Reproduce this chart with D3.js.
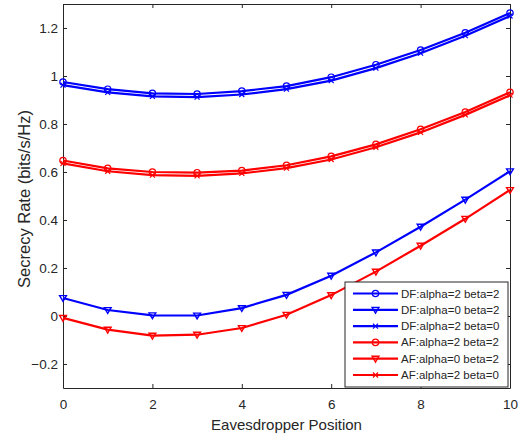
<!DOCTYPE html>
<html>
<head>
<meta charset="utf-8">
<script src="https://cdn.jsdelivr.net/npm/d3@7"></script>
<style>
  body { margin: 0; background: #fff; }
  svg { font-family: "Liberation Sans", Arial, sans-serif; }
</style>
</head>
<body>
<div id="chart"></div>
<script>
// Data
const positions = [0, 1, 2, 3, 4, 5, 6, 7, 8, 9, 10];
const df22 = [0.975, 0.945, 0.928, 0.925, 0.937, 0.958, 0.995, 1.047, 1.108, 1.180, 1.262];
const df02 = [0.075, 0.025, 0.003, 0.002, 0.033, 0.088, 0.168, 0.265, 0.372, 0.485, 0.603];
const df20 = [0.962, 0.932, 0.915, 0.912, 0.923, 0.945, 0.981, 1.033, 1.095, 1.168, 1.250];
const af22 = [0.648, 0.615, 0.600, 0.597, 0.606, 0.628, 0.665, 0.715, 0.778, 0.850, 0.932];
const af02 = [-0.008, -0.057, -0.082, -0.078, -0.050, 0.005, 0.087, 0.185, 0.293, 0.405, 0.525];
const af20 = [0.636, 0.603, 0.587, 0.584, 0.594, 0.616, 0.652, 0.703, 0.765, 0.838, 0.920];
const seriesNames = ['DF:alpha=2 beta=2', 'DF:alpha=0 beta=2', 'DF:alpha=2 beta=0',
                     'AF:alpha=2 beta=2', 'AF:alpha=0 beta=2', 'AF:alpha=2 beta=0'];
const xTicks = [0, 2, 4, 6, 8, 10];
const yTicks = [-0.2, 0, 0.2, 0.4, 0.6, 0.8, 1, 1.2];

const series = [
    { name: seriesNames[0], values: df22, color: '#0000ff', marker: 'circle' },
    { name: seriesNames[1], values: df02, color: '#0000ff', marker: 'tri' },
    { name: seriesNames[2], values: df20, color: '#0000ff', marker: 'cross' },
    { name: seriesNames[3], values: af22, color: '#ff0000', marker: 'circle' },
    { name: seriesNames[4], values: af02, color: '#ff0000', marker: 'tri' },
    { name: seriesNames[5], values: af20, color: '#ff0000', marker: 'cross' }
];

// Layout
const WIDTH = 526, HEIGHT = 436;
const LEFT = 63, RIGHT = 510, TOP = 4, BOTTOM = 388;
const AXIS_COLOR = '#262626';

const svg = d3.select('#chart').append('svg')
    .attr('width', WIDTH).attr('height', HEIGHT);

const x = d3.scaleLinear().domain([0, 10]).range([LEFT, RIGHT]);
const y = d3.scaleLinear().domain([-0.3, 1.3]).range([BOTTOM, TOP]);

// plot background
svg.append('rect')
    .attr('x', LEFT).attr('y', TOP)
    .attr('width', RIGHT - LEFT).attr('height', BOTTOM - TOP)
    .attr('fill', '#fff');

// Axes (MATLAB style: ticks inward, on all four sides)
function styleAxis(g) {
    g.selectAll('path').attr('stroke', AXIS_COLOR);
    g.selectAll('line').attr('stroke', AXIS_COLOR);
    g.selectAll('text').attr('fill', AXIS_COLOR).attr('font-size', 13.5);
}
const fmt = d => (d === 0 ? '0' : d3.format('')(+d.toFixed(1)));

svg.append('g')
    .attr('transform', `translate(0,${BOTTOM})`)
    .call(d3.axisBottom(x).tickValues(xTicks).tickSizeInner(-4).tickSizeOuter(0).tickPadding(11))
    .call(styleAxis);
svg.append('g')
    .attr('transform', `translate(0,${TOP})`)
    .call(d3.axisTop(x).tickValues(xTicks).tickSizeInner(-4).tickSizeOuter(0).tickFormat(''))
    .call(styleAxis);
svg.append('g')
    .attr('transform', `translate(${LEFT},0)`)
    .call(d3.axisLeft(y).tickValues(yTicks).tickSizeInner(-4).tickSizeOuter(0).tickPadding(5).tickFormat(fmt))
    .call(styleAxis);
svg.append('g')
    .attr('transform', `translate(${RIGHT},0)`)
    .call(d3.axisRight(y).tickValues(yTicks).tickSizeInner(-4).tickSizeOuter(0).tickFormat(''))
    .call(styleAxis);

// Axis labels
svg.append('text')
    .attr('x', (LEFT + RIGHT) / 2).attr('y', 430)
    .attr('text-anchor', 'middle')
    .attr('font-size', 15).attr('fill', AXIS_COLOR)
    .text('Eavesdropper Position');
svg.append('text')
    .attr('transform', 'translate(29.5,199) rotate(-90)')
    .attr('text-anchor', 'middle')
    .attr('font-size', 16.5).attr('fill', AXIS_COLOR)
    .text('Secrecy Rate (bits/s/Hz)');

// Markers
function drawMarker(g, type, color) {
    if (type === 'circle') {
        g.append('circle').attr('r', 3.2)
            .attr('fill', 'none').attr('stroke', color).attr('stroke-width', 1.2);
    } else if (type === 'tri') {
        g.append('path').attr('d', 'M-3.4,-2.4 L3.4,-2.4 L0,3.4 Z')
            .attr('fill', 'none').attr('stroke', color).attr('stroke-width', 1.4);
    } else {
        g.append('path').attr('d', 'M-2.5,-2.5 L2.5,2.5 M-2.5,2.5 L2.5,-2.5')
            .attr('stroke', color).attr('stroke-width', 1.2);
    }
}

const line = d3.line()
    .x((d, i) => x(positions[i]))
    .y(d => y(d));

const plot = svg.append('g');
series.forEach(s => {
    plot.append('path')
        .datum(s.values)
        .attr('d', line)
        .attr('fill', 'none')
        .attr('stroke', s.color)
        .attr('stroke-width', 2.2);
    s.values.forEach((v, i) => {
        const m = plot.append('g')
            .attr('transform', `translate(${x(positions[i])},${y(v)})`);
        drawMarker(m, s.marker, s.color);
    });
});

// Legend
const LEG_X = 345, LEG_Y = 282, LEG_W = 163, LEG_H = 105, ROW = 16.3;
const legend = svg.append('g');
legend.append('rect')
    .attr('x', LEG_X).attr('y', LEG_Y)
    .attr('width', LEG_W).attr('height', LEG_H)
    .attr('fill', '#fff').attr('stroke', AXIS_COLOR).attr('stroke-width', 1);
series.forEach((s, i) => {
    const cy = LEG_Y + 11.5 + i * ROW;
    legend.append('line')
        .attr('x1', LEG_X + 8).attr('x2', LEG_X + 53)
        .attr('y1', cy).attr('y2', cy)
        .attr('stroke', s.color).attr('stroke-width', 2.2);
    const m = legend.append('g').attr('transform', `translate(${LEG_X + 30.5},${cy})`);
    drawMarker(m, s.marker, s.color);
    legend.append('text')
        .attr('x', LEG_X + 56).attr('y', cy)
        .attr('dy', '0.35em')
        .attr('font-size', 11.5).attr('fill', AXIS_COLOR)
        .text(s.name);
});
</script>
</body>
</html>
